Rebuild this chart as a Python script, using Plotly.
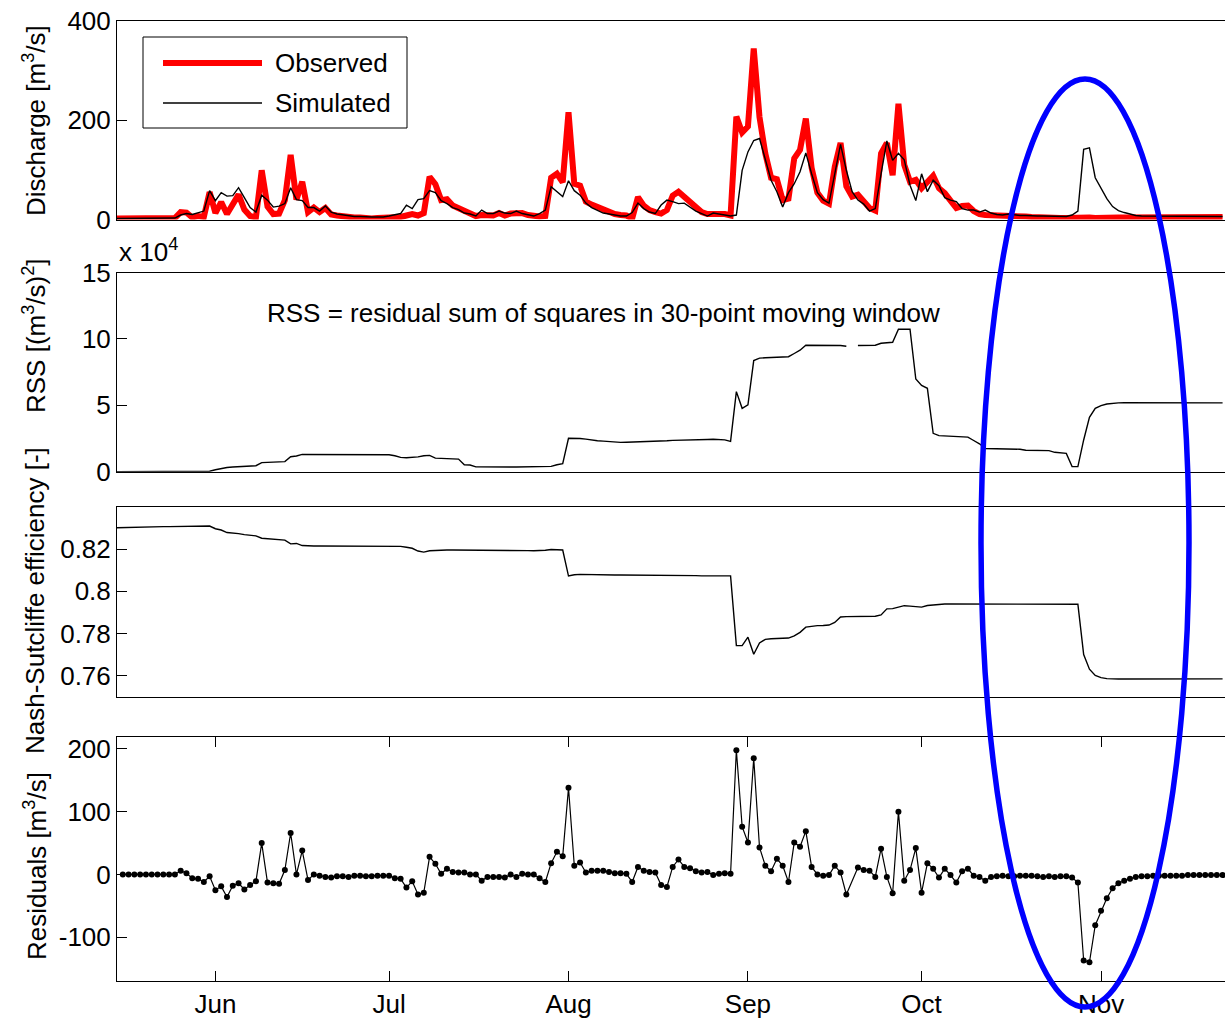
import plotly.graph_objects as go
import pandas as pd

# ---------------- data (daily, starting 15 May) ----------------
start_date = "2010-05-15"
n_days = 192
dates = pd.date_range(start_date, periods=n_days, freq="D")

observed = [
    2, 2, 2, 2, 2, 2, 2, 2, 2, 2,
    3, 15, 14, 4, 7, 5, 55, 13, 35, 11,
    30, 50, 20, 7, 4, 99, 26, 11, 12, 39,
    130, 40, 76, 15, 24, 15, 23, 10, 8, 6,
    3, 4, 4, 2, 2, 3, 3, 5, 3, 5,
    8, 11, 8, 13, 86, 71, 39, 41, 28, 23,
    16, 11, 7, 9, 8, 8, 13, 8, 12, 13,
    13, 9, 7, 6, 7, 84, 92, 75, 216, 72,
    68, 36, 30, 25, 19, 15, 11, 9, 8, 2,
    45, 28, 19, 15, 12, 19, 48, 56, 45, 35,
    22, 15, 11, 12, 12, 11, 8, 207, 175, 187,
    344, 206, 133, 84, 81, 39, 42, 123, 140, 203,
    104, 54, 38, 32, 106, 154, 67, 46, 50, 38,
    23, 18, 133, 154, 89, 233, 110, 76, 80, 63,
    74, 88, 63, 53, 38, 23, 27, 28, 17, 11,
    9, 9, 7, 7, 8, 6, 6, 6, 5, 4,
    3, 4, 3, 3, 3, 4, 4, 4, 4, 3,
    4, 4, 4, 4, 4, 4, 4, 4, 4, 4,
    4, 4, 4, 4, 4, 5, 5, 5, 5, 5,
    5, 5,
]

simulated = [
    2, 2, 2, 2, 2, 2, 2, 2, 2, 2,
    3, 9, 12, 10, 14, 17, 58, 38, 54, 47,
    48, 64, 44, 24, 15, 49, 39, 25, 27, 32,
    64, 40, 38, 24, 24, 17, 27, 15, 11, 9,
    7, 6, 6, 5, 5, 5, 5, 7, 9, 12,
    29, 22, 40, 42, 58, 54, 38, 32, 24, 20,
    13, 11, 7, 19, 12, 12, 17, 13, 12, 17,
    12, 9, 7, 12, 19, 66, 56, 46, 78, 58,
    49, 33, 24, 19, 13, 11, 9, 7, 7, 14,
    33, 22, 15, 12, 29, 39, 36, 32, 33, 25,
    17, 12, 7, 13, 11, 9, 7, 9, 99, 136,
    159, 163, 119, 79, 56, 25, 54, 72, 96, 134,
    92, 54, 40, 33, 92, 151, 99, 56, 39, 31,
    17, 22, 92, 158, 119, 133, 120, 69, 38, 92,
    56, 79, 68, 44, 39, 36, 22, 19, 19, 15,
    19, 13, 10, 9, 11, 9, 8, 8, 7, 7,
    7, 7, 7, 6, 6, 9, 17, 141, 144, 84,
    62, 42, 26, 18, 14, 11, 8, 7, 7, 6,
    6, 6, 6, 6, 6, 6, 6, 6, 6, 6,
    6, 6,
]

residuals = [
    None, 0, 0, 0, 0, 0, 0, 0, 0, 0,
    0, 6, 2, -6, -7, -12, -3, -25, -19, -36,
    -18, -14, -24, -17, -11, 50, -13, -14, -15, 7,
    66, 0, 38, -9, 0, -2, -4, -5, -3, -3,
    -4, -2, -2, -3, -3, -2, -2, -2, -6, -7,
    -21, -11, -32, -29, 28, 17, 1, 9, 4, 3,
    3, 0, 0, -10, -4, -4, -4, -5, 0, -4,
    1, 0, 0, -6, -12, 18, 36, 29, 138, 14,
    19, 3, 6, 6, 6, 4, 2, 2, 1, -12,
    12, 6, 4, 3, -17, -20, 12, 24, 12, 10,
    5, 3, 4, -1, 1, 2, 1, 198, 76, 51,
    185, 43, 14, 5, 25, 14, -12, 51, 44, 69,
    12, 0, -2, -1, 14, 3, -32, None, 11, 7,
    6, -4, 41, -4, -30, 100, -10, 7, 42, -29,
    18, 9, -5, 9, -1, -13, 5, 9, -2, -4,
    -10, -4, -3, -2, -3, -3, -2, -2, -2, -3,
    -4, -3, -4, -3, -3, -5, -13, -137, -140, -81,
    -58, -38, -22, -14, -10, -7, -4, -3, -3, -2,
    -2, -2, -2, -2, -2, -1, -1, -1, -1, -1,
    -1, -1,
]

# RSS in units of 1e4 (m3/s)^2
rss_x1e4 = [
    0, 0, 0, 0, 0, 0, 0, 0, 0, 0,
    0, 0, 0, 0, 0, 0.02, 0.03, 0.15, 0.25, 0.32,
    0.35, 0.38, 0.40, 0.42, 0.45, 0.68, 0.70, 0.72, 0.73, 0.76,
    1.13, 1.18, 1.30, 1.30, 1.30, 1.30, 1.31, 1.31, 1.31, 1.31,
    1.31, 1.31, 1.31, 1.30, 1.30, 1.30, 1.30, 1.28, 1.20, 1.08,
    1.05, 1.06, 1.12, 1.20, 1.23, 1.02, 1.00, 0.98, 0.97, 0.95,
    0.52, 0.50, 0.36, 0.35, 0.35, 0.35, 0.35, 0.35, 0.35, 0.35,
    0.35, 0.35, 0.35, 0.35, 0.35, 0.40, 0.52, 0.60, 2.52, 2.52,
    2.50, 2.45, 2.38, 2.33, 2.30, 2.26, 2.22, 2.21, 2.22, 2.23,
    2.24, 2.25, 2.26, 2.27, 2.30, 2.33, 2.36, 2.38, 2.39, 2.40,
    2.41, 2.42, 2.43, 2.44, 2.44, 2.40, 2.28, 6.03, 4.77, 5.03,
    8.37, 8.55, 8.58, 8.60, 8.62, 8.64, 8.66, 8.90, 9.15, 9.52,
    9.52, 9.52, 9.51, 9.52, 9.52, 9.50, 9.45, None, 9.50, 9.50,
    9.50, 9.52, 9.67, 9.72, 9.75, 10.73, 10.73, 10.73, 6.98, 6.50,
    6.28, 2.89, 2.72, 2.70, 2.68, 2.66, 2.64, 2.60, 2.35, 2.10,
    1.75, 1.74, 1.73, 1.72, 1.71, 1.70, 1.69, 1.62, 1.61, 1.60,
    1.60, 1.59, 1.46, 1.42, 1.38, 0.38, 0.38, 2.39, 4.10, 4.77,
    4.98, 5.10, 5.15, 5.18, 5.19, 5.19, 5.19, 5.19, 5.19, 5.19,
    5.19, 5.19, 5.19, 5.18, 5.18, 5.18, 5.18, 5.18, 5.18, 5.18,
    5.18, 5.18,
]

nse = [
    0.8303, 0.8304, 0.8305, 0.8306, 0.8306, 0.8307, 0.8307, 0.8308, 0.8308, 0.8308,
    0.8308, 0.8308, 0.8308, 0.8308, 0.8308, 0.8309, 0.8311, 0.8298, 0.8292, 0.8280,
    0.8278, 0.8275, 0.8270, 0.8267, 0.8264, 0.8253, 0.8250, 0.8248, 0.8245, 0.8244,
    0.8226, 0.8228, 0.8218, 0.8216, 0.8216, 0.8216, 0.8216, 0.8216, 0.8216, 0.8216,
    0.8216, 0.8216, 0.8216, 0.8216, 0.8216, 0.8216, 0.8216, 0.8216, 0.8216, 0.8214,
    0.8210, 0.8205, 0.8192, 0.8187, 0.8193, 0.8195, 0.8196, 0.8197, 0.8197, 0.8197,
    0.8197, 0.8197, 0.8197, 0.8196, 0.8196, 0.8196, 0.8195, 0.8195, 0.8195, 0.8195,
    0.8194, 0.8194, 0.8193, 0.8193, 0.8196, 0.8199, 0.8198, 0.8197, 0.8073, 0.8079,
    0.8081, 0.8080, 0.8080, 0.8080, 0.8079, 0.8079, 0.8078, 0.8078, 0.8078, 0.8077,
    0.8077, 0.8077, 0.8077, 0.8076, 0.8075, 0.8075, 0.8075, 0.8075, 0.8075, 0.8075,
    0.8075, 0.8074, 0.8074, 0.8074, 0.8074, 0.8074, 0.8074, 0.7742, 0.7742, 0.7782,
    0.7701, 0.7755, 0.7772, 0.7775, 0.7776, 0.7777, 0.7778, 0.7788, 0.7805, 0.7830,
    0.7835, 0.7837, 0.7838, 0.7840, 0.7852, 0.7878, 0.7880, 0.7880, 0.7880, 0.7880,
    0.7880, 0.7882, 0.7888, 0.7917, 0.7918, 0.7926, 0.7932, 0.7930, 0.7926, 0.7925,
    0.7933, 0.7936, 0.7939, 0.7940, 0.7940, 0.7940, 0.7940, 0.7940, 0.7940, 0.7940,
    0.7940, 0.7940, 0.7940, 0.7940, 0.7940, 0.7940, 0.7940, 0.7940, 0.7940, 0.7940,
    0.7940, 0.7940, 0.7940, 0.7940, 0.7940, 0.7940, 0.7939, 0.7700, 0.7630, 0.7600,
    0.7590, 0.7585, 0.7583, 0.7583, 0.7583, 0.7583, 0.7583, 0.7583, 0.7583, 0.7583,
    0.7583, 0.7583, 0.7583, 0.7583, 0.7583, 0.7583, 0.7584, 0.7584, 0.7584, 0.7584,
    0.7584, 0.7584,
]

x_range = ["2010-05-15 00:00", "2010-11-22 10:00"]
month_ticks = ["2010-06-01", "2010-07-01", "2010-08-01", "2010-09-01", "2010-10-01", "2010-11-01"]
month_labels = ["Jun", "Jul", "Aug", "Sep", "Oct", "Nov"]

discharge_ticks = [0, 200, 400]
rss_ticks = [0, 5, 10, 15]
nse_ticks = [0.76, 0.78, 0.8, 0.82]
nse_tick_labels = ["0.76", "0.78", "0.8", "0.82"]
resid_ticks = [-100, 0, 100, 200]
resid_tick_labels = ["-100", "0", "100", "200"]

# ---------------- figure ----------------
W, H = 1225, 1018
L = 117
PW = W - L
FONT = "Liberation Sans, Arial, Helvetica, sans-serif"
FS = 26


def dom(top, bottom):
    return [1 - bottom / H, 1 - top / H]


def px_x(x):
    return (x - L) / PW


def px_y(y):
    return 1 - y / H


fig = go.Figure()

fig.add_trace(go.Scatter(x=dates, y=observed, mode="lines", name="Observed",
                         line=dict(color="#ff0000", width=6), xaxis="x", yaxis="y"))
fig.add_trace(go.Scatter(x=dates, y=simulated, mode="lines", name="Simulated",
                         line=dict(color="black", width=1.4), xaxis="x", yaxis="y"))
fig.add_trace(go.Scatter(x=dates, y=rss_x1e4, mode="lines", name="RSS",
                         line=dict(color="black", width=1.4), xaxis="x2", yaxis="y2",
                         connectgaps=False))
fig.add_trace(go.Scatter(x=dates, y=nse, mode="lines", name="NSE",
                         line=dict(color="black", width=1.4), xaxis="x3", yaxis="y3"))
fig.add_trace(go.Scatter(x=dates, y=residuals, mode="lines+markers", name="Residuals",
                         line=dict(color="black", width=1.2),
                         marker=dict(color="black", size=6),
                         connectgaps=True, xaxis="x4", yaxis="y4"))

xcommon = dict(type="date", range=x_range, showline=True, linecolor="black", linewidth=1,
               mirror=True, showgrid=False, zeroline=False, automargin=False,
               tickvals=month_ticks, ticktext=month_labels,
               tickfont=dict(family=FONT, size=FS, color="black"))
ycommon = dict(showline=True, linecolor="black", linewidth=1, mirror=False,
               showgrid=False, zeroline=False, ticks="inside", ticklen=10,
               automargin=False, tickcolor="black",
               tickfont=dict(family=FONT, size=FS, color="black"))

layout = dict(
    width=W, height=H,
    margin=dict(l=L, r=0, t=0, b=0, autoexpand=False),
    paper_bgcolor="white", plot_bgcolor="white",
    font=dict(family=FONT, size=FS, color="black"),
    showlegend=False,
)

boxes = [(20.7, 219.5), (272.5, 471.7), (507.3, 696.5), (737, 980.5)]
for i, (top, bottom) in enumerate(boxes, start=1):
    xa = dict(xcommon, domain=[0, 1], anchor="y" if i == 1 else f"y{i}")
    if i < 4:
        xa.update(ticks="", showticklabels=False)
    else:
        xa.update(ticks="inside", ticklen=10, tickcolor="black", mirror="ticks",
                  showticklabels=True)
    if i > 1:
        xa["matches"] = "x"
    layout["xaxis" if i == 1 else f"xaxis{i}"] = xa
    ya = dict(ycommon, domain=dom(top, bottom), anchor="x" if i == 1 else f"x{i}")
    layout["yaxis" if i == 1 else f"yaxis{i}"] = ya

layout["yaxis"].update(range=[0, 400], tickvals=discharge_ticks)
layout["yaxis2"].update(range=[0, 15], tickvals=rss_ticks)
layout["yaxis3"].update(range=[0.75, 0.84], tickvals=nse_ticks, ticktext=nse_tick_labels)
layout["yaxis4"].update(range=[-169, 219], tickvals=resid_ticks, ticktext=resid_tick_labels)

fig.update_layout(**layout)

# axis titles (rotated)
titles = [
    ("Discharge [m<sup>3</sup>/s]", 121),
    ("RSS [(m<sup>3</sup>/s)<sup>2</sup>]", 336),
    ("Nash-Sutcliffe efficiency [-]", 601),
    ("Residuals [m<sup>3</sup>/s]", 866),
]
for text, yc in titles:
    fig.add_annotation(text=text, xref="paper", yref="paper",
                       x=px_x(35), y=px_y(yc), xanchor="center", yanchor="middle",
                       textangle=-90, showarrow=False,
                       font=dict(family=FONT, size=FS, color="black"))

fig.add_annotation(text="x 10<sup>4</sup>", xref="paper", yref="paper",
                   x=0, y=px_y(250), xanchor="left", yanchor="middle", showarrow=False,
                   font=dict(family=FONT, size=FS, color="black"))
fig.add_annotation(text="RSS = residual sum of squares in 30-point moving window",
                   xref="paper", yref="paper", x=px_x(603), y=px_y(313),
                   xanchor="center", yanchor="middle", showarrow=False,
                   font=dict(family=FONT, size=FS, color="black"))

# legend box (drawn like the original's boxed legend)
fig.add_shape(type="rect", xref="paper", yref="paper",
              x0=px_x(143), x1=px_x(407), y0=px_y(128), y1=px_y(37),
              line=dict(color="black", width=1), fillcolor="white", layer="above")
legend_items = [("Observed", "#ff0000", 6, 63), ("Simulated", "black", 1.4, 103)]
for name, color, width, yc in legend_items:
    fig.add_shape(type="line", xref="paper", yref="paper",
                  x0=px_x(163), x1=px_x(262), y0=px_y(yc), y1=px_y(yc),
                  line=dict(color=color, width=width), layer="above")
    fig.add_annotation(text=name, xref="paper", yref="paper", x=px_x(273), y=px_y(yc),
                       xanchor="left", yanchor="middle", showarrow=False,
                       font=dict(family=FONT, size=FS, color="black"))

# highlight ellipse
fig.add_shape(type="circle", xref="paper", yref="paper",
              x0=px_x(981), x1=px_x(1189), y0=px_y(1007), y1=px_y(79),
              line=dict(color="#0000ff", width=5.5), layer="above")

fig.write_html("out.html")
